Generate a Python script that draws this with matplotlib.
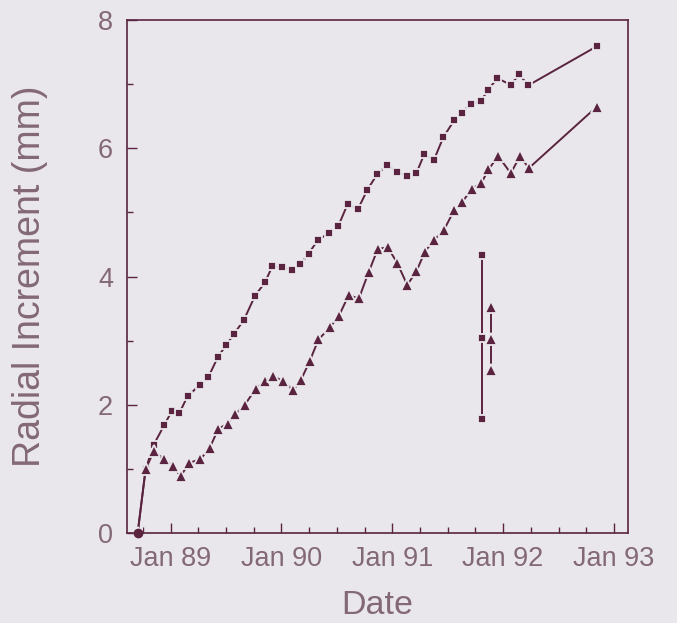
import matplotlib.pyplot as plt
from matplotlib.ticker import MultipleLocator

# decimal years
sq_date = [1988.702, 1988.774, 1988.847, 1988.940, 1989.009, 1989.078, 1989.153,
           1989.264, 1989.339, 1989.424, 1989.499, 1989.574, 1989.662, 1989.761,
           1989.851, 1989.917, 1990.007, 1990.097, 1990.170, 1990.245, 1990.329,
           1990.431, 1990.513, 1990.597, 1990.690, 1990.774, 1990.865, 1990.955,
           1991.042, 1991.133, 1991.217, 1991.289, 1991.374, 1991.460, 1991.560,
           1991.626, 1991.708, 1991.798, 1991.864, 1991.948, 1992.069, 1992.146,
           1992.227, 1992.847]
sq_val = [0.0, 1.0, 1.38, 1.68, 1.90, 1.87, 2.14,
          2.31, 2.43, 2.74, 2.93, 3.11, 3.33, 3.70,
          3.91, 4.16, 4.15, 4.10, 4.19, 4.36, 4.57,
          4.68, 4.79, 5.13, 5.05, 5.35, 5.60, 5.74,
          5.63, 5.57, 5.61, 5.91, 5.81, 6.17, 6.44,
          6.55, 6.69, 6.73, 6.91, 7.09, 6.99, 7.15,
          6.98, 7.59]

tri_date = [1988.702, 1988.774, 1988.849, 1988.942, 1989.018, 1989.090, 1989.168,
            1989.267, 1989.352, 1989.431, 1989.517, 1989.585, 1989.668, 1989.767,
            1989.851, 1989.926, 1990.014, 1990.106, 1990.176, 1990.254, 1990.334,
            1990.438, 1990.519, 1990.606, 1990.699, 1990.787, 1990.869, 1990.958,
            1991.045, 1991.135, 1991.217, 1991.295, 1991.376, 1991.467, 1991.560,
            1991.631, 1991.718, 1991.805, 1991.868, 1991.956, 1992.069, 1992.153,
            1992.232, 1992.847]
tri_val = [0.0, 1.0, 1.28, 1.15, 1.05, 0.89, 1.10,
           1.15, 1.33, 1.63, 1.71, 1.86, 2.00, 2.25,
           2.37, 2.45, 2.37, 2.23, 2.39, 2.68, 3.02,
           3.21, 3.39, 3.71, 3.66, 4.07, 4.43, 4.46,
           4.21, 3.87, 4.08, 4.39, 4.57, 4.73, 5.04,
           5.16, 5.37, 5.46, 5.67, 5.88, 5.61, 5.88,
           5.69, 6.65]

# the two error bars drawn in the middle of the plot
sq_err_date = 1991.807
sq_err_vals = [1.78, 3.04, 4.33]
tri_err_date = 1991.891
tri_err_vals = [2.55, 3.03, 3.53]

year_ticks = [1989, 1990, 1991, 1992, 1993]
year_labels = ['Jan 89', 'Jan 90', 'Jan 91', 'Jan 92', 'Jan 93']

ink = '#5a2440'
bg = '#e9e7ec'
txt = '#836876'

plt.rcParams['font.family'] = ['Liberation Sans', 'DejaVu Sans']

fig = plt.figure(figsize=(6.77, 6.23), dpi=100, facecolor=bg)
ax = fig.add_axes([0.1876, 0.144, 0.7400, 0.824], facecolor=bg)

ax.plot(sq_date, sq_val, color=ink, lw=1.4, marker='s', ms=6,
        mfc=ink, mec=bg, mew=1.3)
ax.plot(tri_date, tri_val, color=ink, lw=1.4, marker='^', ms=8,
        mfc=ink, mec=bg, mew=1.3)
# both series start at the same point, drawn as a round dot
ax.plot(sq_date[0], sq_val[0], color=ink, marker='o', ms=6, mec=ink,
        clip_on=False, zorder=5)

ax.plot([sq_err_date] * 3, sq_err_vals, color=ink, lw=1.4, marker='s', ms=6,
        mfc=ink, mec=bg, mew=1.3)
ax.plot([tri_err_date] * 3, tri_err_vals, color=ink, lw=1.4, marker='^', ms=8,
        mfc=ink, mec=bg, mew=1.3)

ax.set_xlim(1988.606, 1993.127)
ax.set_ylim(0, 8)

ax.set_xticks(year_ticks)
ax.set_xticklabels(year_labels)
ax.xaxis.set_minor_locator(MultipleLocator(0.25))
ax.yaxis.set_major_locator(MultipleLocator(2))
ax.yaxis.set_minor_locator(MultipleLocator(1))

ax.tick_params(which='both', direction='in', color=ink, width=1.0,
               labelcolor=txt, labelsize=19.5)
ax.tick_params(which='major', length=7)
ax.tick_params(which='minor', length=4)
ax.tick_params(axis='x', pad=9)
ax.tick_params(axis='y', pad=10)

for sp in ax.spines.values():
    sp.set_color(ink)
    sp.set_linewidth(1.2)

ax.set_xlabel('Date', fontsize=24.5, color=txt, labelpad=13)
ax.set_ylabel('Radial Increment (mm)', fontsize=27, color=txt, labelpad=36)

fig.savefig('out.png', dpi=100, facecolor=bg)
